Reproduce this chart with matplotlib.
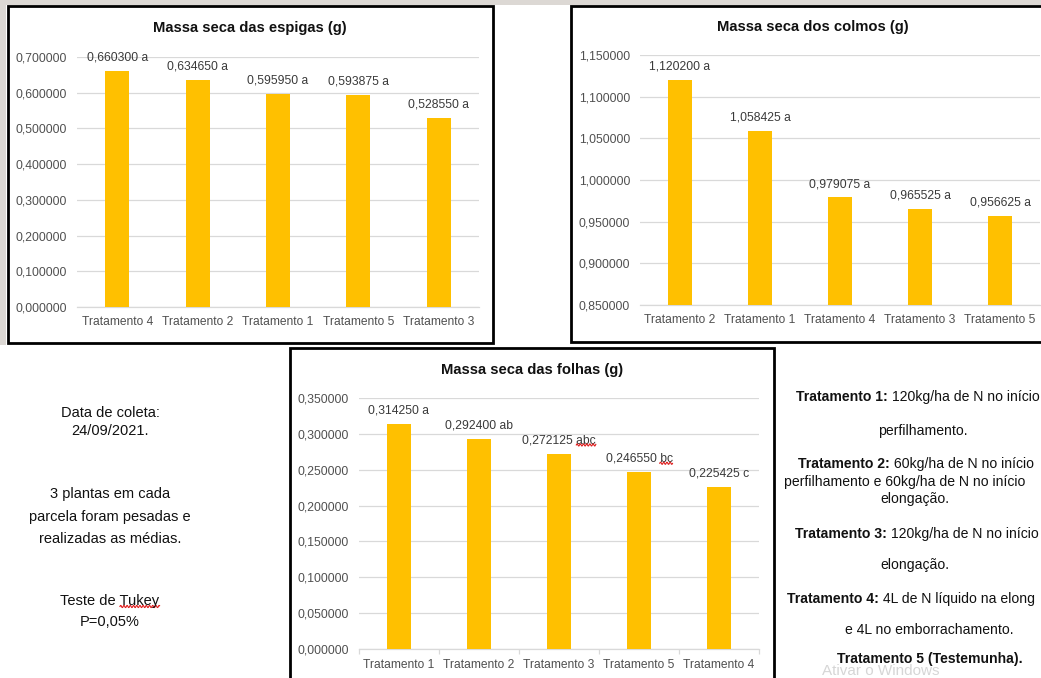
import matplotlib
matplotlib.use("Agg")
import matplotlib.pyplot as plt
import numpy as np
from matplotlib import font_manager
from matplotlib.patches import Rectangle
from matplotlib.lines import Line2D
from matplotlib.text import Annotation
from matplotlib.ticker import FuncFormatter, MultipleLocator, FixedLocator
from matplotlib.transforms import IdentityTransform

# ---------------------------------------------------------------- data
espigas_cats = ["Tratamento 4", "Tratamento 2", "Tratamento 1", "Tratamento 5", "Tratamento 3"]
espigas_vals = [0.660300, 0.634650, 0.595950, 0.593875, 0.528550]
espigas_letters = ["a", "a", "a", "a", "a"]

colmos_cats = ["Tratamento 2", "Tratamento 1", "Tratamento 4", "Tratamento 3", "Tratamento 5"]
colmos_vals = [1.120200, 1.058425, 0.979075, 0.965525, 0.956625]
colmos_letters = ["a", "a", "a", "a", "a"]

folhas_cats = ["Tratamento 1", "Tratamento 2", "Tratamento 3", "Tratamento 5", "Tratamento 4"]
folhas_vals = [0.314250, 0.292400, 0.272125, 0.246550, 0.225425]
folhas_letters = ["a", "ab", "abc", "bc", "c"]

info_lines = ["Data de coleta:", "24/09/2021.",
              "3 plantas em cada", "parcela foram pesadas e", "realizadas as médias.",
              "Teste de Tukey", "P=0,05%"]

# ---------------------------------------------------------------- setup
W, H = 1041, 678
DPI = 100
fig = plt.figure(figsize=(W / DPI, H / DPI), dpi=DPI, facecolor="white")

installed = {f.name for f in font_manager.fontManager.ttflist}
if "Liberation Sans Narrow" in installed:
    NARROW, NSCALE = "Liberation Sans Narrow", 1.0
else:
    NARROW, NSCALE = "Liberation Sans", 0.84
REG = "Liberation Sans"

BAR = "#FFC000"
GRID = "#d9d9d9"
TICK_C = "#505050"
LABEL_C = "#3a3a3a"
SQUIG = "#e02020"


def nf(size, bold=False):
    return dict(family=NARROW, size=size * NSCALE, weight="bold" if bold else "normal")


def fx(x):
    return x / W


def fy(y):
    return 1 - y / H


def comma6(v, _pos=None):
    return f"{v:.6f}".replace(".", ",")


# light textured edge of the page behind the panels
fig.patches.append(Rectangle((0, fy(5)), 1, 5 / H, transform=fig.transFigure,
                             facecolor="#dcd8d4", edgecolor="none", zorder=-5))
fig.patches.append(Rectangle((0, fy(345)), fx(6), 345 / H, transform=fig.transFigure,
                             facecolor="#dcd8d4", edgecolor="none", zorder=-5))

pending_squiggles = []   # (text artist, suffix, fontdict)


def panel(frame, box, title, title_xy, cats, vals, letters, ymin, ymax, step,
          boundary_ticks=False, squiggle_suffixes=()):
    x0, y0, x1, y1 = frame
    fig.patches.append(Rectangle((fx(x0), fy(y1)), (x1 - x0) / W, (y1 - y0) / H,
                                 transform=fig.transFigure, facecolor="white",
                                 edgecolor="black", lw=2.0, zorder=-1))
    bx0, by0, bx1, by1 = box
    ax = fig.add_axes([fx(bx0), fy(by1), (bx1 - bx0) / W, (by1 - by0) / H])
    ax.set_facecolor("none")
    xs = np.arange(len(cats))
    ax.bar(xs, vals, width=0.3, color=BAR, zorder=3)
    ax.set_xlim(-0.5, len(cats) - 0.5)
    ax.set_ylim(ymin, ymax)
    ax.yaxis.set_major_locator(MultipleLocator(step))
    ax.yaxis.set_major_formatter(FuncFormatter(comma6))
    ax.grid(axis="y", color=GRID, lw=0.9, zorder=0)
    ax.set_axisbelow(True)
    for s in ("top", "right", "left"):
        ax.spines[s].set_visible(False)
    ax.spines["bottom"].set_color(GRID)
    ax.spines["bottom"].set_linewidth(0.9)
    ax.set_xticks(xs)
    ax.set_xticklabels(cats, **nf(10.3), color=TICK_C)
    for lab in ax.get_yticklabels():
        lab.set_fontproperties(font_manager.FontProperties(**nf(10.5)))
        lab.set_color(TICK_C)
    ax.tick_params(axis="y", length=0, pad=7.2)
    if boundary_ticks:
        ax.xaxis.set_minor_locator(FixedLocator(np.arange(len(cats) + 1) - 0.5))
        ax.tick_params(axis="x", which="minor", length=3.5, color=GRID, width=0.9)
        ax.tick_params(axis="x", which="major", length=0, pad=7.5)
    else:
        ax.tick_params(axis="x", length=0, pad=6.5)

    for xi, v, let in zip(xs, vals, letters):
        t = ax.annotate(f"{comma6(v)} {let}", (xi, v), xytext=(0, 7.5),
                        textcoords="offset points", ha="center", va="baseline",
                        color=LABEL_C, **nf(10.4))
        if let in squiggle_suffixes:
            pending_squiggles.append((t, let, nf(10.4)))

    fig.text(fx(title_xy[0]), fy(title_xy[1]), title, ha="center", va="center",
             color="#111111", **nf(12.7, bold=True))
    return ax


panel((8, 6, 493, 343), (77, 57, 479, 307), "Massa seca das espigas (g)", (250, 28),
      espigas_cats, espigas_vals, espigas_letters, 0.0, 0.7, 0.1)
panel((571, 6, 1060, 342), (640, 55, 1040, 305), "Massa seca dos colmos (g)", (813, 27),
      colmos_cats, colmos_vals, colmos_letters, 0.85, 1.15, 0.05)
panel((290, 348, 774, 700), (359, 398, 759, 649), "Massa seca das folhas (g)", (532, 370),
      folhas_cats, folhas_vals, folhas_letters, 0.0, 0.35, 0.05,
      boundary_ticks=True, squiggle_suffixes=("abc", "bc"))

# ---------------------------------------------------------------- notes on the left
info_y = [412, 430, 493, 516, 538, 600, 621]
for line, yc in zip(info_lines, info_y):
    t = fig.text(fx(110), fy(yc + 5), line, ha="center", va="baseline",
                 family=REG, size=10.5, color="#111111")
    if line.startswith("Teste de"):
        pending_squiggles.append((t, "Tukey", dict(family=REG, size=10.5)))

# ---------------------------------------------------------------- treatment legend on the right
RS = 12.0


def mixed(x, yc, bold_part, rest):
    t = fig.text(fx(x), fy(yc + 6), bold_part, ha="left", va="baseline",
                 color="#111111", **nf(RS, bold=True))
    a = Annotation(rest, xy=(1, 0), xycoords=t, ha="left", va="bottom",
                   color="#111111", **nf(RS))
    fig.add_artist(a)


def centered(x, yc, text, bold=False):
    fig.text(fx(x), fy(yc + 6), text, ha="center", va="baseline",
             color="#111111", **nf(RS, bold=bold))


def plain_left(x, yc, text):
    fig.text(fx(x), fy(yc + 6), text, ha="left", va="baseline",
             color="#111111", **nf(RS))


mixed(796, 395, "Tratamento 1:", " 120kg/ha de N no início")
centered(923, 429, "perfilhamento.")
mixed(798, 462, "Tratamento 2:", " 60kg/ha de N no início")
plain_left(784, 480, "perfilhamento e 60kg/ha de N no início")
centered(915, 497, "elongação.")
mixed(795, 532, "Tratamento 3:", " 120kg/ha de N no início")
centered(915, 563, "elongação.")
mixed(787, 597, "Tratamento 4:", " 4L de N líquido na elong")
centered(929, 628, "e 4L no emborrachamento.")
centered(930, 657, "Tratamento 5 (Testemunha).", bold=True)

# faint system watermark along the bottom edge, kept behind the legend text
fig.text(fx(822), 0.0, "Ativar o Windows", ha="left", va="bottom",
         family=REG, size=11, color="#d6d6d6", zorder=-2)

# ---------------------------------------------------------------- spell-check squiggles
fig.canvas.draw()
renderer = fig.canvas.get_renderer()
for txt, suffix, fd in pending_squiggles:
    bb = txt.get_window_extent(renderer)
    probe = fig.text(0, 0, suffix, **fd)
    w = probe.get_window_extent(renderer).width
    probe.remove()
    xa, xb = bb.x1 - w, bb.x1
    ybase = bb.y0 + 1.5
    xx = np.linspace(xa, xb, int(xb - xa) * 3 + 2)
    yy = ybase + 1.1 * np.sin((xx - xa) / 3.2 * 2 * np.pi)
    fig.add_artist(Line2D(xx, yy, transform=IdentityTransform(), color=SQUIG, lw=0.8))

fig.savefig("out.png", dpi=DPI, facecolor="white")
